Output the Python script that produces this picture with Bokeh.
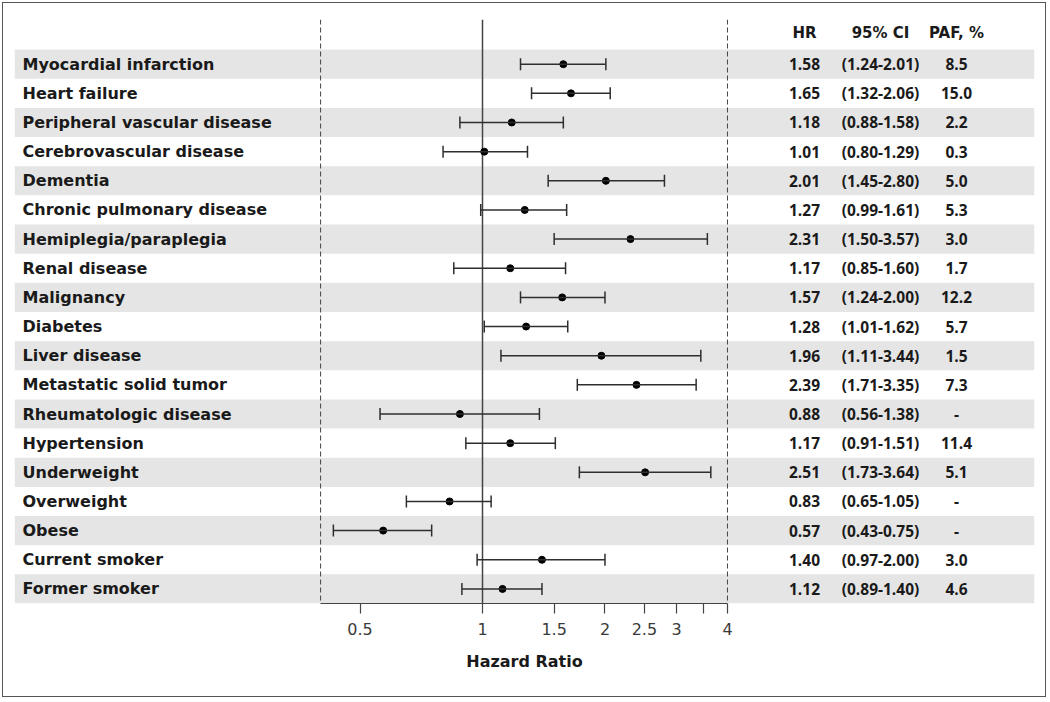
from bokeh.plotting import figure
from bokeh.models import (Range1d, Span, Whisker, TeeHead, ColumnDataSource,
                          FixedTicker, CustomJSTickFormatter)
from bokeh.core.properties import value
from bokeh.embed import file_html
from bokeh.resources import INLINE

# ---------------- data ----------------
conditions = ["Myocardial infarction", "Heart failure", "Peripheral vascular disease",
              "Cerebrovascular disease", "Dementia", "Chronic pulmonary disease",
              "Hemiplegia/paraplegia", "Renal disease", "Malignancy", "Diabetes",
              "Liver disease", "Metastatic solid tumor", "Rheumatologic disease",
              "Hypertension", "Underweight", "Overweight", "Obese", "Current smoker",
              "Former smoker"]
hr = [1.58, 1.65, 1.18, 1.01, 2.01, 1.27, 2.31, 1.17, 1.57, 1.28,
      1.96, 2.39, 0.88, 1.17, 2.51, 0.83, 0.57, 1.40, 1.12]
ci_low = [1.24, 1.32, 0.88, 0.80, 1.45, 0.99, 1.50, 0.85, 1.24, 1.01,
          1.11, 1.71, 0.56, 0.91, 1.73, 0.65, 0.43, 0.97, 0.89]
ci_high = [2.01, 2.06, 1.58, 1.29, 2.80, 1.61, 3.57, 1.60, 2.00, 1.62,
           3.44, 3.35, 1.38, 1.51, 3.64, 1.05, 0.75, 2.00, 1.40]
paf = ["8.5", "15.0", "2.2", "0.3", "5.0", "5.3", "3.0", "1.7", "12.2", "5.7",
       "1.5", "7.3", "-", "11.4", "5.1", "-", "-", "3.0", "4.6"]
column_headers = ["HR", "95% CI", "PAF, %"]
tick_values = [0.5, 1, 1.5, 2, 2.5, 3, 3.5, 4]
tick_labels = ["0.5", "1", "1.5", "2", "2.5", "3", "", "4"]
axis_bounds = (0.4, 4)
x_title = "Hazard Ratio"

# ---------------- layout helpers ----------------
PX_ONE = 468.0      # frame px of x=1
PX_DEC = 406.9      # px per decade
FRAME_W = 1020


def px2x(px):
    return 10 ** ((px - PX_ONE) / PX_DEC)


n = len(conditions)
rows = list(range(n))

p = figure(width=1044, height=695, x_axis_type="log", output_backend="svg",
           toolbar_location=None, y_axis_location=None,
           x_range=Range1d(px2x(0), px2x(FRAME_W)),
           y_range=Range1d(n - 0.5, -1.533),
           min_border_left=11, min_border_right=13, min_border_top=16,
           min_border_bottom=95)
p.styles = {"border": "1px solid #555555", "margin": "2px 0 0 2px"}
p.outline_line_color = None
p.xgrid.visible = False
p.ygrid.visible = False
p.background_fill_color = "white"

# alternating bands
band_rows = [r for r in rows if r % 2 == 0]
p.hbar(y=band_rows, left=px2x(0), right=px2x(FRAME_W), height=1.0,
       fill_color="#e5e5e5", line_color=None)

# reference lines
for loc in axis_bounds:
    p.add_layout(Span(location=loc, dimension="height", line_color="#444444",
                      line_width=1, line_dash="5 3"))
p.add_layout(Span(location=1, dimension="height", line_color="#444444",
                  line_width=1.5))

# error bars
src = ColumnDataSource(dict(y=rows, hr=hr, lo=ci_low, hi=ci_high))
w = Whisker(source=src, base="y", lower="lo", upper="hi", dimension="width",
            line_color="#2e2e2e", line_width=1.5, level="overlay",
            lower_head=TeeHead(size=12, line_color="#2e2e2e", line_width=1.5),
            upper_head=TeeHead(size=12, line_color="#2e2e2e", line_width=1.5))
p.add_layout(w)
p.scatter(x="hr", y="y", source=src, size=7, fill_color="black", line_color="black",
          level="overlay")

# labels
p.text(x=[px2x(8)] * n, y=rows, text=conditions, text_font=value("DejaVu Sans"),
       text_font_size="16px", text_font_style="bold", text_color="#1a1a1a",
       text_align="left", text_baseline="middle")

hr_txt = ["%.2f" % v for v in hr]
ci_txt = ["(%.2f-%.2f)" % (a, b) for a, b in zip(ci_low, ci_high)]
col_px = [790, 866, 942]
for cpx, head, vals in zip(col_px, column_headers, [hr_txt, ci_txt, paf]):
    p.text(x=[px2x(cpx)], y=[-1.053], text=[head], text_font=value("DejaVu Sans"),
           text_font_size="15px", text_font_style="bold", text_color="#1a1a1a",
           text_align="center", text_baseline="middle")
    p.text(x=[px2x(cpx)] * n, y=rows, text=vals, text_font=value("Open Sans"),
           text_font_size="15.5px", text_font_style="bold", text_color="#1a1a1a",
           text_align="center", text_baseline="middle")

# axis
ax = p.xaxis[0]
ax.ticker = FixedTicker(ticks=tick_values)
lab = {str(v): t for v, t in zip(tick_values, tick_labels)}
ax.formatter = CustomJSTickFormatter(args=dict(lab=lab),
                                     code="const k = String(tick); return (k in lab) ? lab[k] : k;")
ax.bounds = axis_bounds
ax.axis_line_color = "#444444"
ax.axis_line_width = 1.2
ax.major_tick_line_color = "#444444"
ax.major_tick_line_width = 1.2
ax.major_tick_out = 10
ax.major_tick_in = 0
ax.minor_tick_line_color = None
ax.major_label_standoff = 9
ax.major_label_text_font = "DejaVu Sans"
ax.major_label_text_font_size = "16px"
ax.major_label_text_color = "#3a3a3a"
ax.axis_label = x_title
ax.axis_label_text_font = "DejaVu Sans"
ax.axis_label_text_font_size = "16px"
ax.axis_label_text_font_style = "bold"
ax.axis_label_text_color = "#1a1a1a"
ax.axis_label_standoff = 14

open("out.html", "w").write(file_html(p, INLINE))
